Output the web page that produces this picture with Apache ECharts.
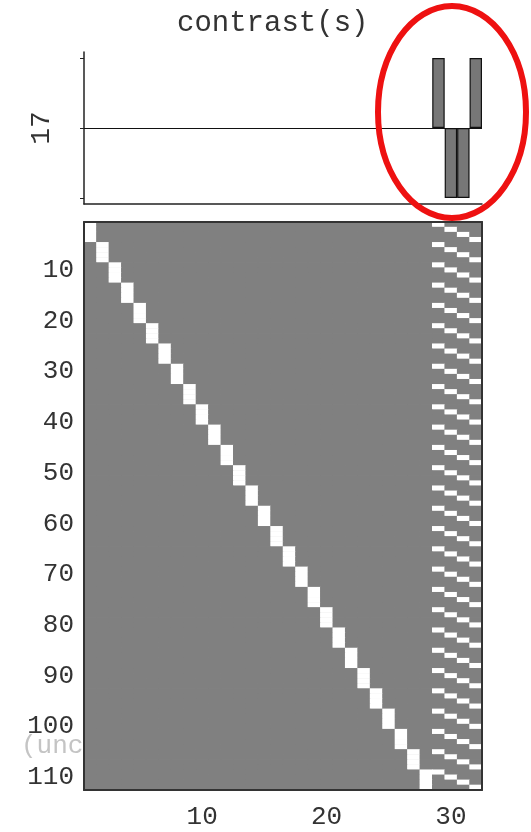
<!DOCTYPE html>
<html><head><meta charset="utf-8">
<script src="https://cdn.jsdelivr.net/npm/echarts@6/dist/echarts.min.js"></script>
<style>html,body{margin:0;padding:0;background:#fff}#c{width:531px;height:832px}</style>
</head><body><div id="c"></div>
<script>
// ---- data ----
const titleText = 'contrast(s)';
const contrastAxisName = '17';
const sideNote = '(unc';
const nCols = 32;
const nRows = 112;
const contrastCols = [29, 30, 31, 32];
const contrastVals = [1, -1, -1, 1];
const contrastTickCols = [1, 5, 9, 13, 17, 21, 25, 29, 32];
const contrastTickVals = [-1, 0, 1];
// design matrix: column j (1..28) is on for 4 rows starting at subjectBlockStart[j-1]
const subjectBlockStart = [1, 5, 9, 13, 17, 21, 25, 29, 33, 37, 41, 45, 49, 53, 57, 61, 65, 69, 73, 77, 81, 85, 89, 93, 97, 101, 105, 109];
const blockLength = 4;
// condition columns: k-th column is on at the k-th row of every block
const conditionCols = [29, 30, 31, 32];
const xTickLabels = [10, 20, 30];
const yTickLabels = [10, 20, 30, 40, 50, 60, 70, 80, 90, 100, 110];

// ---- build ----
const colCats = Array.from({length: nCols}, (_, i) => String(i + 1));
const rowCats = Array.from({length: nRows}, (_, i) => String(i + 1));
const barData = colCats.map(c => {
  const k = contrastCols.indexOf(+c);
  return k >= 0 ? contrastVals[k] : null;
});
const white = {};
subjectBlockStart.forEach((start, j) => {
  for (let k = 0; k < blockLength; k++) {
    const r = start + k;
    white[r + '_' + (j + 1)] = 1;
    white[r + '_' + conditionCols[k]] = 1;
  }
});
const heat = [];
for (let r = 1; r <= nRows; r++) {
  for (let c = 1; c <= nCols; c++) {
    heat.push([c - 1, r - 1, white[r + '_' + c] ? 1 : 0]);
  }
}

const FONT = 'Liberation Mono';
const TXT = '#333';
const xTickFn = (i, v) => xTickLabels.includes(+v);
const yTickFn = (i, v) => yTickLabels.includes(+v);
const topTickFn = (i, v) => contrastTickCols.includes(+v);

const chart = echarts.init(document.getElementById('c'), null, {renderer: 'canvas'});
chart.setOption({
  animation: false,
  backgroundColor: '#fff',
  title: {
    text: titleText, left: 177, top: 9, padding: 0,
    textStyle: {fontFamily: FONT, fontSize: 29, fontWeight: 'normal', color: TXT}
  },
  graphic: [
    {type: 'text', left: 21, top: 733, z: -10,
     style: {text: sideNote, font: '26px "Liberation Mono"', fill: '#c4c4c4'}},
    {type: 'ellipse', z: 100, silent: true,
     shape: {cx: 452, cy: 112, rx: 74, ry: 106},
     style: {fill: null, stroke: '#ee1111', lineWidth: 6}}
  ],
  grid: [
    {left: 84, width: 398, top: 52, height: 152},
    {left: 84, width: 398, top: 222, height: 568, show: true, backgroundColor: '#808080', borderWidth: 0}
  ],
  visualMap: {
    type: 'piecewise', show: false, seriesIndex: 1, dimension: 2,
    pieces: [{value: 0, color: '#808080'}, {value: 1, color: '#ffffff'}]
  },
  xAxis: [
    {gridIndex: 0, type: 'category', data: colCats, position: 'bottom',
     axisLine: {onZero: false, lineStyle: {color: '#222', width: 1.5}},
     axisTick: {interval: topTickFn, alignWithLabel: true, length: 4, lineStyle: {color: '#222'}},
     axisLabel: {show: false}, splitLine: {show: false}},
    {gridIndex: 1, type: 'category', data: colCats, position: 'bottom', z: 10,
     axisLine: {lineStyle: {color: '#333', width: 2}},
     axisTick: {interval: xTickFn, alignWithLabel: true, inside: true, length: 5, lineStyle: {color: '#222', width: 1.5}},
     axisLabel: {interval: xTickFn, fontFamily: FONT, fontSize: 26, color: TXT, margin: 14},
     splitLine: {show: false}},
    {gridIndex: 1, type: 'category', data: colCats, position: 'top', z: 10,
     axisLine: {lineStyle: {color: '#333', width: 2}},
     axisTick: {interval: xTickFn, alignWithLabel: true, inside: true, length: 5, lineStyle: {color: '#222', width: 1.5}},
     axisLabel: {show: false}, splitLine: {show: false}}
  ],
  yAxis: [
    {gridIndex: 0, type: 'value', min: -1.086, max: 1.086, position: 'left',
     axisLine: {show: true, onZero: false, lineStyle: {color: '#222', width: 1.5}},
     axisTick: {show: true, customValues: contrastTickVals, length: 4, lineStyle: {color: '#222'}},
     axisLabel: {show: false}, splitLine: {show: false},
     name: contrastAxisName, nameLocation: 'middle', nameRotate: 90, nameGap: 28,
     nameTextStyle: {fontFamily: FONT, fontSize: 28, color: TXT}},
    {gridIndex: 1, type: 'category', data: rowCats, inverse: true, position: 'left', z: 10,
     axisLine: {lineStyle: {color: '#333', width: 2}},
     axisTick: {interval: yTickFn, alignWithLabel: true, inside: true, length: 5, lineStyle: {color: '#222', width: 1.5}},
     axisLabel: {interval: yTickFn, fontFamily: FONT, fontSize: 26, color: TXT, margin: 10},
     splitLine: {show: false}},
    {gridIndex: 1, type: 'category', data: rowCats, inverse: true, position: 'right', z: 10,
     axisLine: {lineStyle: {color: '#333', width: 2}},
     axisTick: {interval: yTickFn, alignWithLabel: true, inside: true, length: 5, lineStyle: {color: '#222', width: 1.5}},
     axisLabel: {show: false}, splitLine: {show: false}}
  ],
  series: [
    {type: 'bar', xAxisIndex: 0, yAxisIndex: 0, data: barData, barCategoryGap: '0%',
     itemStyle: {color: '#777', borderColor: '#111', borderWidth: 1.2},
     markLine: {silent: true, symbol: 'none', label: {show: false},
       lineStyle: {color: '#111', width: 1.2, type: 'solid'}, data: [{yAxis: 0}]}},
    {type: 'heatmap', xAxisIndex: 1, yAxisIndex: 1, data: heat,
     itemStyle: {borderWidth: 0}, emphasis: {disabled: true}}
  ]
});
</script></body></html>
